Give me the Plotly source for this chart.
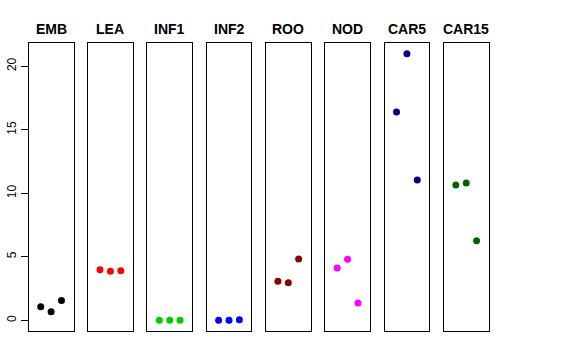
import plotly.graph_objects as go

categories = ["EMB", "LEA", "INF1", "INF2", "ROO", "NOD", "CAR5", "CAR15"]
colors = ["#000000", "#FF0000", "#00CD00", "#0000FF", "#8B0000", "#FF00FF", "#00008B", "#006400"]
replicates = [1, 2, 3]
emb = [1.07, 0.68, 1.57]
lea = [3.98, 3.86, 3.90]
inf1 = [0.0, 0.0, 0.0]
inf2 = [0.0, 0.0, 0.05]
roo = [3.07, 2.96, 4.83]
nod = [4.12, 4.80, 1.36]
car5 = [16.4, 20.99, 11.05]
car15 = [10.65, 10.81, 6.27]
series = [emb, lea, inf1, inf2, roo, nod, car5, car15]
y_ticks = [0, 5, 10, 15, 20]

W, H = 576, 360
left0 = 28.7
panel_w = 44.8
step = 59.3
box_top, box_bot = 43, 331
title_y = 29

fig = go.Figure()
ymax = max(max(s) for s in series)
ymin = min(min(s) for s in series)
pad = (ymax - ymin) * 0.04
yrange = [ymin - pad, ymax + pad]

for i, (cat, col, vals) in enumerate(zip(categories, colors, series)):
    n = i + 1
    xa = "x" if n == 1 else f"x{n}"
    ya = "y" if n == 1 else f"y{n}"
    fig.add_trace(go.Scatter(
        x=replicates, y=vals, mode="markers",
        marker=dict(color=col, size=7, line=dict(width=0)),
        xaxis=xa, yaxis=ya, showlegend=False, hoverinfo="skip"))
    x0 = (left0 + i * step) / W
    x1 = (left0 + i * step + panel_w) / W
    xkey = "xaxis" if n == 1 else f"xaxis{n}"
    ykey = "yaxis" if n == 1 else f"yaxis{n}"
    fig.layout[xkey] = dict(domain=[x0, x1], range=[-0.16, 4.16], showgrid=False,
                            zeroline=False, showticklabels=False, ticks="",
                            showline=True, mirror=True, linecolor="#000000",
                            linewidth=1, anchor=ya, automargin=False)
    ydict = dict(domain=[1 - box_bot / H, 1 - box_top / H], range=yrange,
                 showgrid=False, zeroline=False, showline=True, mirror=True,
                 linecolor="#000000", linewidth=1, anchor=xa, automargin=False)
    if n == 1:
        ydict.update(tickmode="array", tickvals=y_ticks,
                     ticktext=[str(t) for t in y_ticks], ticks="outside",
                     ticklen=7, tickwidth=1, tickcolor="#000000",
                     tickangle=-90, tickfont=dict(size=12, color="#000000",
                                                  family="Liberation Sans, Arial, sans-serif"))
    else:
        ydict.update(showticklabels=False, ticks="")
    fig.layout[ykey] = ydict
    fig.add_annotation(text=f"<b>{cat}</b>", x=(x0 + x1) / 2, y=1 - title_y / H,
                       xref="paper", yref="paper", showarrow=False,
                       xanchor="center", yanchor="middle",
                       font=dict(size=14, color="#000000",
                                 family="Liberation Sans, Arial, sans-serif"))

fig.update_layout(width=W, height=H, margin=dict(l=0, r=0, t=0, b=0, autoexpand=False),
                  paper_bgcolor="white", plot_bgcolor="white", hovermode=False)
fig.write_html("out.html", config={"displayModeBar": False, "staticPlot": True},
               post_script="document.body.style.margin='0';")
